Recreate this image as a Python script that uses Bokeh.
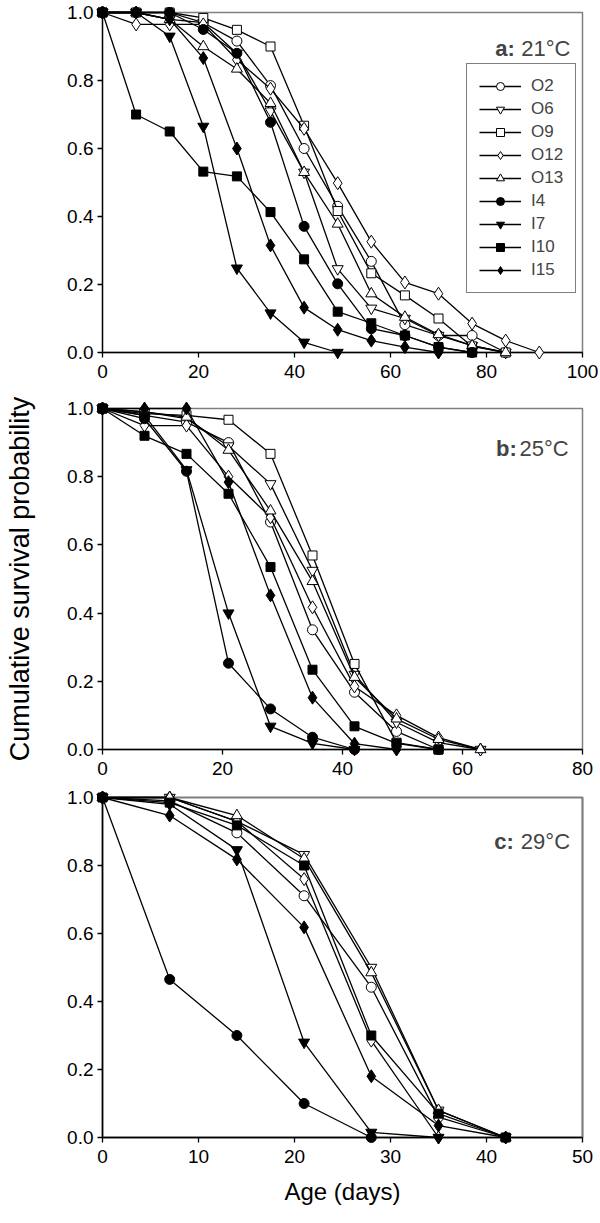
from bokeh.plotting import figure
from bokeh.layouts import column
from bokeh.models import Range1d, FixedTicker, NumeralTickFormatter, Label, Legend, LegendItem
from bokeh.embed import file_html
from bokeh.resources import INLINE

FONT = "Liberation Sans"

# ---------------- data ----------------
series = ["O2", "O6", "O9", "O12", "O13", "I4", "I7", "I10", "I15"]

days_a = [0, 7, 14, 21, 28, 35, 42, 49, 56, 63, 70, 77, 84, 91]
a_O2 = [1, 1, 1, 0.97, 0.916, 0.785, 0.60, 0.43, 0.268, 0.082, 0.05, 0.05, 0.0]
a_O6 = [1, 1, 0.98, 0.97, 0.88, 0.71, 0.53, 0.246, 0.13, 0.10, 0.05, 0.02, 0.0]
a_O9 = [1, 1, 1, 0.984, 0.949, 0.90, 0.667, 0.416, 0.233, 0.168, 0.10, 0.018, 0.0]
a_O12 = [1, 0.965, 0.965, 0.965, 0.861, 0.776, 0.658, 0.498, 0.326, 0.206, 0.173, 0.085, 0.035, 0.0]
a_O13 = [1, 1, 0.98, 0.90, 0.834, 0.733, 0.53, 0.378, 0.173, 0.104, 0.053, 0.02, 0.0]
a_I4 = [1, 1, 1, 0.95, 0.88, 0.677, 0.371, 0.202, 0.07, 0.05, 0.016, 0.0]
a_I7 = [1, 1, 0.93, 0.665, 0.248, 0.116, 0.03, 0.0]
a_I10 = [1, 0.70, 0.65, 0.532, 0.518, 0.413, 0.274, 0.12, 0.086, 0.05, 0.016, 0.0]
a_I15 = [1, 1, 0.98, 0.866, 0.60, 0.315, 0.132, 0.067, 0.035, 0.016, 0.0]

days_b = [0, 7, 14, 21, 28, 35, 42, 49, 56, 63]
b_O2 = [1, 0.98, 0.96, 0.90, 0.667, 0.351, 0.168, 0.053, 0.0]
b_O6 = [1, 0.99, 0.97, 0.89, 0.779, 0.525, 0.22, 0.08, 0.02, 0.0]
b_O9 = [1, 0.985, 0.98, 0.967, 0.867, 0.569, 0.251, 0.02, 0.0]
b_O12 = [1, 0.95, 0.95, 0.80, 0.681, 0.417, 0.185, 0.10, 0.035, 0.0]
b_O13 = [1, 0.99, 0.975, 0.878, 0.70, 0.493, 0.212, 0.09, 0.03, 0.0]
b_I4 = [1, 0.97, 0.816, 0.253, 0.119, 0.036, 0.0]
b_I7 = [1, 0.98, 0.82, 0.40, 0.068, 0.018, 0.0]
b_I10 = [1, 0.92, 0.867, 0.75, 0.535, 0.234, 0.068, 0.018, 0.0]
b_I15 = [1, 1.0, 1.0, 0.784, 0.452, 0.152, 0.017, 0.0]

days_c = [0, 7, 14, 21, 28, 35, 42]
c_O2 = [1, 0.99, 0.896, 0.711, 0.442, 0.06, 0.0]
c_O6 = [1, 1.0, 0.93, 0.832, 0.50, 0.08, 0.0]
c_O12 = [1, 1.0, 0.93, 0.76, 0.285, 0.0]
c_O13 = [1, 1.0, 0.947, 0.82, 0.485, 0.08, 0.0]
c_I4 = [1, 0.465, 0.30, 0.10, 0.0]
c_I7 = [1, 0.98, 0.846, 0.28, 0.015, 0.0]
c_I10 = [1, 0.985, 0.918, 0.80, 0.30, 0.07, 0.0]
c_I15 = [1, 0.947, 0.818, 0.618, 0.18, 0.035, 0.0]

xticks_a = [0, 20, 40, 60, 80, 100]
xticks_b = [0, 20, 40, 60, 80]
xticks_c = [0, 10, 20, 30, 40, 50]
yticks = [0.0, 0.2, 0.4, 0.6, 0.8, 1.0]

panel_a = {"O2": a_O2, "O6": a_O6, "O9": a_O9, "O12": a_O12, "O13": a_O13,
           "I4": a_I4, "I7": a_I7, "I10": a_I10, "I15": a_I15}
panel_b = {"O2": b_O2, "O6": b_O6, "O9": b_O9, "O12": b_O12, "O13": b_O13,
           "I4": b_I4, "I7": b_I7, "I10": b_I10, "I15": b_I15}
panel_c = {"O2": c_O2, "O6": c_O6, "O12": c_O12, "O13": c_O13,
           "I4": c_I4, "I7": c_I7, "I10": c_I10, "I15": c_I15}

# ---------------- styles ----------------
STYLE = {
    "O2": ("circle", "white", 10),
    "O6": ("inverted_triangle", "white", 11),
    "O9": ("square", "white", 9),
    "O12": ("diamond", "white", 13),
    "O13": ("triangle", "white", 11),
    "I4": ("circle", "black", 10),
    "I7": ("inverted_triangle", "black", 11),
    "I10": ("square", "black", 9),
    "I15": ("diamond", "black", 13),
}


def make_panel(days, data, xmax, xticks, axis_w, axis_h, left, right, top, bottom,
               tag, temp, tag_x, temp_x, title_y, legend=False, xlabel=None, ylabel=None,
               border_w=1.5):
    width = left + axis_w + right
    height = top + axis_h + bottom
    p = figure(width=width, height=height, output_backend="svg", toolbar_location=None,
               x_range=Range1d(0, xmax), y_range=Range1d(0, 1),
               min_border_left=left, min_border_right=right,
               min_border_top=top, min_border_bottom=bottom,
               background_fill_color="white", border_fill_color="white")
    p.grid.visible = False
    p.outline_line_color = "#7f7f7f"
    p.outline_line_width = border_w

    items = []
    for name in series:
        if name not in data:
            continue
        vals = data[name]
        xs = days[:len(vals)]
        marker, fill, size = STYLE[name]
        r1 = p.line(xs, vals, line_color="black", line_width=1.3, level="overlay")
        r2 = p.scatter(xs, vals, marker=marker, size=size, fill_color=fill,
                       line_color="black", line_width=1, level="overlay")
        items.append(LegendItem(label=name, renderers=[r1, r2]))

    for ax in (p.xaxis[0], p.yaxis[0]):
        ax.axis_line_color = "black"
        ax.axis_line_width = 1.3
        ax.major_tick_line_color = "black"
        ax.major_tick_line_width = 1.3
        ax.major_tick_out = 5
        ax.major_tick_in = 0
        ax.minor_tick_line_color = None
        ax.major_label_text_font = FONT
        ax.major_label_text_font_size = "19px"
        ax.major_label_text_color = "black"
        ax.axis_label_text_font = FONT
        ax.axis_label_text_font_style = "normal"
        ax.axis_label_text_color = "black"
    p.xaxis.major_label_standoff = 7
    p.yaxis.major_label_standoff = 4
    p.xaxis.ticker = FixedTicker(ticks=xticks)
    p.yaxis.ticker = FixedTicker(ticks=yticks)
    p.yaxis.formatter = NumeralTickFormatter(format="0.0")
    if xlabel:
        p.xaxis.axis_label = xlabel
        p.xaxis.axis_label_text_font_size = "24px"
        p.xaxis.axis_label_standoff = 12
    if ylabel:
        p.yaxis.axis_label = ylabel
        p.yaxis.axis_label_text_font_size = "27px"
        p.yaxis.axis_label_standoff = 29

    p.add_layout(Label(x=tag_x, y=title_y, text=tag, text_font=FONT, text_font_size="22px",
                       text_font_style="bold", text_align="left", text_baseline="alphabetic"))
    p.add_layout(Label(x=temp_x, y=title_y, text=temp, text_font=FONT, text_font_size="22px",
                       text_align="right", text_baseline="alphabetic"))

    if legend:
        lg = Legend(items=items, location=(364, 59), glyph_width=42, glyph_height=20,
                    label_height=20, spacing=3, padding=12, label_standoff=10, margin=0,
                    label_text_font=FONT, label_text_font_size="17px",
                    border_line_color="black", border_line_width=1,
                    background_fill_color="white", background_fill_alpha=1)
        p.add_layout(lg)
    return p


pa = make_panel(days_a, panel_a, 100, xticks_a, 485, 340, 97, 16, 12, 44,
                "a:", "21°C", 81.8, 97.5, 0.893, legend=True)
pb = make_panel(days_b, panel_b, 80, xticks_b, 485, 341, 97, 16, 12, 36,
                "b:", "25°C", 65.6, 77.7, 0.882, ylabel="Cumulative survival probability")
pc = make_panel(days_c, panel_c, 50, xticks_c, 484, 340, 102, 12, 12, 76,
                "c:", "29°C", 40.8, 48.7, 0.871, xlabel="Age (days)", border_w=2.2)

layout = column(pa, pb, pc, spacing=0)
open("out.html", "w").write(file_html(layout, INLINE))
